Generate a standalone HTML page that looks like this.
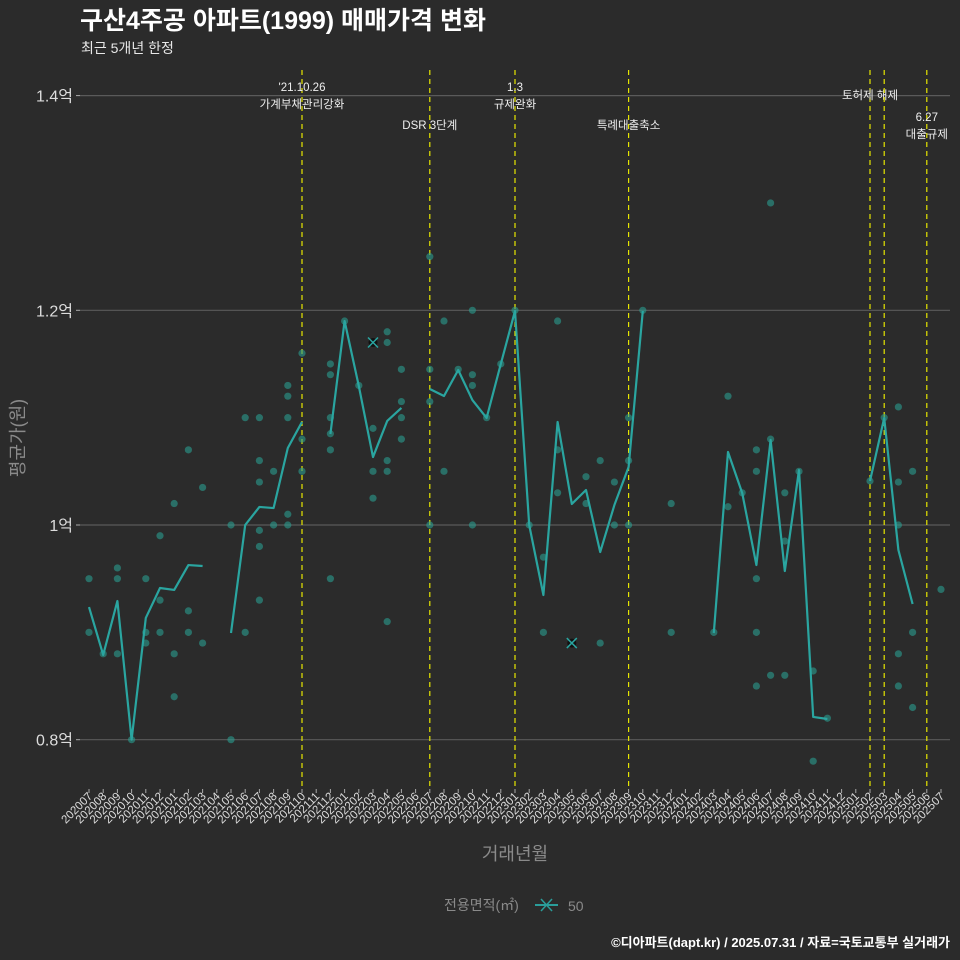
<!DOCTYPE html>
<html><head><meta charset="utf-8"><style>
html,body{margin:0;padding:0;background:#2b2b2b}
svg{display:block}
text{font-family:"Liberation Sans","Noto Sans CJK KR",sans-serif}
</style></head><body>
<svg id="chart" width="960" height="960" viewBox="0 0 960 960" xmlns="http://www.w3.org/2000/svg">
<rect x="0" y="0" width="960" height="960" fill="#2b2b2b"/>
<text x="80" y="29" fill="#ffffff" font-size="25" font-weight="bold">구산4주공 아파트(1999) 매매가격 변화</text>
<text x="81" y="53" fill="#e8e8e8" font-size="14">최근 5개년 한정</text>
<g id="grid"></g>
<g id="xaxis"></g>
<g id="vlines"></g>
<g id="marks"></g>
<text transform="translate(24,438) rotate(-90)" text-anchor="middle" fill="#8a8a8a" font-size="18">평균가(원)</text>
<text x="515" y="860" text-anchor="middle" fill="#8a8a8a" font-size="18">거래년월</text>
<g>
<text x="444" y="910" fill="#8a8a8a" font-size="14">전용면적(㎡)</text>
<g>
<line x1="535" y1="905" x2="558" y2="905" stroke="#2a9d9a" stroke-width="2"/>
<path d="M541,899 L552,911 M552,899 L541,911" stroke="#2a9d9a" stroke-width="1.5"/>
<text x="568" y="911" fill="#8a8a8a" font-size="14">50</text>
</g>
</g>
<text x="950" y="947" text-anchor="end" fill="#ffffff" font-size="13" font-weight="bold">©디아파트(dapt.kr) / 2025.07.31 / 자료=국토교통부 실거래가</text>
</svg>
<script>
const months = [];
for (let y = 2020; y <= 2025; y++) for (let m = 1; m <= 12; m++) { const k = y * 100 + m; if (k >= 202007 && k <= 202507) months.push(String(k)); }
const yTicks = [8000, 10000, 12000, 14000];
const yTickLabels = ["0.8억", "1억", "1.2억", "1.4억"];
const lineMonths = ["202007","202008","202009","202010","202011","202012","202101","202102","202103","202104","202105","202106","202107","202108","202109","202110","202111","202112","202201","202202","202203","202204","202205","202206","202207","202208","202209","202210","202211","202212","202301","202302","202303","202304","202305","202306","202307","202308","202309","202310","202311","202403","202404","202405","202406","202407","202408","202409","202410","202411","202412","202502","202503","202504","202505"];
const lineValues = [9236,8790,9292,8000,9134,9413,9395,9627,9618,null,8994,10000,10168,10158,10717,10960,null,10848,11900,11295,10633,10969,11090,null,11267,11202,11444,11164,10997,11500,11994,10000,9348,10960,10196,10326,9748,10186,10540,11994,null,8994,10680,10298,9627,10792,9571,10512,8212,8193,null,10410,10997,9767,9264];
const dotMonths = ["202007","202007","202008","202009","202009","202009","202010","202011","202011","202011","202012","202012","202012","202101","202101","202101","202102","202102","202102","202103","202103","202105","202105","202106","202106","202107","202107","202107","202107","202107","202107","202108","202108","202109","202109","202109","202109","202109","202110","202110","202110","202112","202112","202112","202112","202112","202112","202201","202202","202203","202203","202203","202204","202204","202204","202204","202204","202205","202205","202205","202205","202207","202207","202207","202207","202208","202208","202209","202210","202210","202210","202210","202211","202212","202301","202302","202303","202303","202304","202304","202304","202306","202306","202307","202307","202308","202308","202309","202309","202309","202310","202312","202312","202403","202404","202404","202405","202406","202406","202406","202406","202406","202407","202407","202407","202408","202408","202408","202409","202410","202410","202411","202502","202503","202504","202504","202504","202504","202504","202505","202505","202505","202507"];
const dotValues = [9500,9000,8800,9600,9500,8800,8000,9500,9000,8900,9900,9300,9000,10200,8800,8400,10700,9200,9000,10350,8900,10000,8000,11000,9000,11000,10600,10400,9950,9800,9300,10500,10000,11300,11200,11000,10100,10000,11600,10800,10500,11500,11400,11000,10850,10700,9500,11900,11300,10900,10500,10250,11800,11700,10600,10500,9100,11450,11150,11000,10800,12500,11450,11150,10000,11900,10500,11450,12000,11400,11300,10000,11000,11500,12000,10000,9700,9000,11900,10700,10300,10450,10200,10600,8900,10400,10000,11000,10600,10000,12000,10200,9000,9000,11200,10170,10300,10700,10500,9500,9000,8500,13000,10800,8600,10300,9850,8600,10500,8640,7800,8200,10410,11000,11100,10400,10000,8800,8500,10500,9000,8300,9400];
const crossMonths = ["202203","202305"];
const crossValues = [11700, 8900];
const eventMonths = ["202110","202207","202301","202309","202502","202503","202506"];
const eventLabels = [["'21.10.26","가계부채관리강화"],["DSR 3단계"],["1.3","규제완화"],["특례대출축소"],["토허제 해제"],[],["6.27","대출규제"]];
const eventLabelY = [91,129,91,129,99,0,121];

const NS = "http://www.w3.org/2000/svg";
const X0 = 89, XSTEP = 14.2;
function xPos(m){ return X0 + months.indexOf(m) * XSTEP; }
function yPos(v){ return 525 - (v - 10000) / 2000 * 214.7; }
function mk(tag, attrs, parent){ const e = document.createElementNS(NS, tag); for (const k in attrs) e.setAttribute(k, attrs[k]); parent.appendChild(e); return e; }

const grid = document.getElementById('grid');
yTicks.forEach((v, i) => {
  const y = yPos(v);
  const l = mk('line', {x1:80, x2:950, y1:y, y2:y, stroke:'#5a5a5a', 'stroke-width':1.2}, grid);
  
  
  mk('line', {x1:76, x2:80, y1:y, y2:y, stroke:'#aaa', 'stroke-width':1}, grid);
  const t = mk('text', {x:73, y:y+6, 'text-anchor':'end', fill:'#dddddd', 'font-size':16}, grid);
  t.textContent = yTickLabels[i];
  
  
});
const xa = document.getElementById('xaxis');
months.forEach(m => {
  const x = xPos(m);
  mk('line', {x1:x, x2:x, y1:789, y2:793, stroke:'#aaa', 'stroke-width':1}, xa);
  const t = mk('text', {transform:`translate(${x+4},797) rotate(-45)`, 'text-anchor':'end', fill:'#dddddd', 'font-size':11.5}, xa);
  t.textContent = m;
  
  
});
const vl = document.getElementById('vlines');
eventMonths.forEach((m, i) => {
  const x = xPos(m);
  const l = mk('line', {x1:x, x2:x, y1:70, y2:790, stroke:'#e6e600', 'stroke-width':1.2, 'stroke-dasharray':'5,4'}, vl);
  
  
  eventLabels[i].forEach((s, j) => {
    const t = mk('text', {x:x, y:eventLabelY[i] + j*17, 'text-anchor':'middle', fill:'#eeeeee', 'font-size':11.5}, vl);
    t.textContent = s;
    
    
  });
});
const g = document.getElementById('marks');
dotMonths.forEach((m, i) => {
  const c = mk('circle', {cx:xPos(m), cy:yPos(dotValues[i]), r:3.6, fill:'#2a9d8f', 'fill-opacity':0.6}, g);
  
  
});
let seg = [];
const segs = [];
lineMonths.forEach((m, i) => {
  const v = lineValues[i];
  if (v === null) { if (seg.length) segs.push(seg); seg = []; }
  else seg.push([xPos(m), yPos(v)]);
});
if (seg.length) segs.push(seg);
segs.forEach(s => {
  const p = mk('polyline', {points:s.map(q => q.join(',')).join(' '), fill:'none', stroke:'#2aa5a0', 'stroke-width':2.2, 'stroke-linejoin':'round'}, g);
  
  
});
crossMonths.forEach((m, i) => {
  const x = xPos(m), y = yPos(crossValues[i]);
  mk('circle', {cx:x, cy:y, r:4.5, fill:'#111'}, g);
  const p = mk('path', {d:`M${x-5},${y-5} L${x+5},${y+5} M${x+5},${y-5} L${x-5},${y+5}`, stroke:'#2aa5a0', 'stroke-width':1.5}, g);
  
  
});
</script>
</body></html>
